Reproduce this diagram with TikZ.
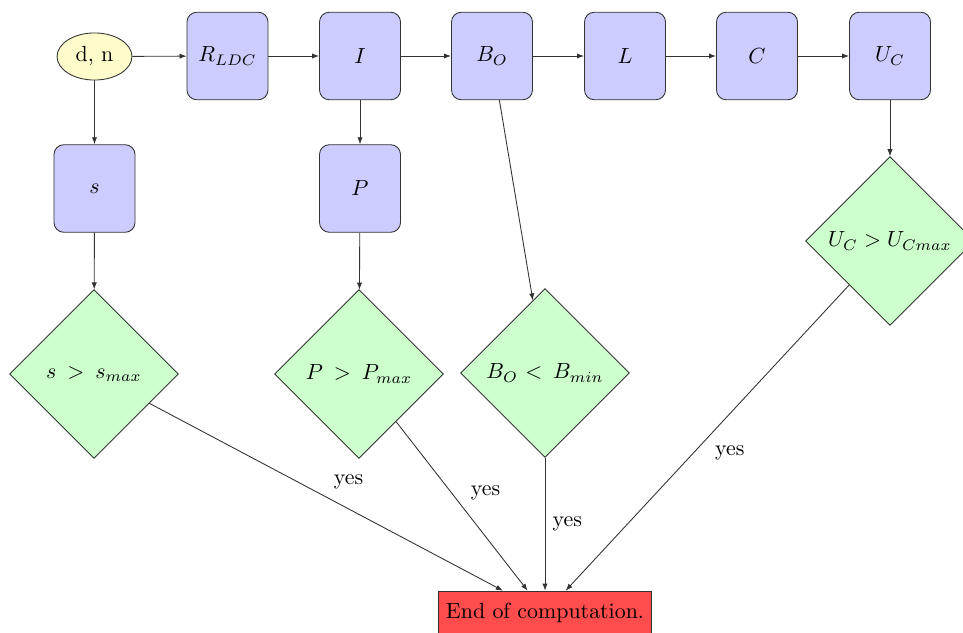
\documentclass[tikz,border=0pt]{standalone}
\usetikzlibrary{shapes.geometric,arrows.meta}
\tikzset{
  px/.style={x=0.4566pt,y=-0.4566pt},
  blockbox/.style={draw=black!80, fill=blue!20, rounded corners=4.5pt, minimum width=37pt, minimum height=40pt, inner sep=0pt},
  inbox/.style={draw=black!80, fill=yellow!20, ellipse, minimum width=34.2pt, minimum height=21.5pt, inner sep=0pt},
  testbox/.style={draw=black!80, fill=green!20, diamond, aspect=1, minimum width=77pt, minimum height=77pt, inner sep=1pt},
  endbox/.style={draw=black!80, fill=red!70, minimum width=97pt, minimum height=20pt},
  flow/.style={draw=black!80, -{Latex[length=3.2pt,width=2.4pt]}},
}
\begin{document}
\begin{tikzpicture}[px]
\useasboundingbox (0,0) rectangle (963,633);
\node[inbox] (in) at (94.5,56.5) {d, n};
\node[blockbox] (R) at (227.5,56) {$R_{LDC}$};
\node[blockbox] (I) at (360,56) {$I$};
\node[blockbox] (BO) at (492,56) {$B_O$};
\node[blockbox] (L) at (625,56) {$L$};
\node[blockbox] (C) at (757,56) {$C$};
\node[blockbox] (UC) at (890,56) {$U_C$};
\node[blockbox] (s) at (94.5,188.5) {$s$};
\node[blockbox] (P) at (360,188.5) {$P$};
\node[testbox] (ds) at (94,374) {$s$ \,$>$\, $s_{max}$};
\node[testbox] (dP) at (359,374) {$P$ \,$>$\, $P_{max}$};
\node[testbox] (dB) at (545,373) {$B_O$ $<$ \,$B_{min}$};
\node[testbox] (dU) at (890,241) {$U_C > U_{Cmax}$};
\node[endbox] (end) at (545,613) {End of computation.};

\draw[flow] (in) -- (R);
\draw[flow] (R) -- (I);
\draw[flow] (I) -- (BO);
\draw[flow] (BO) -- (L);
\draw[flow] (L) -- (C);
\draw[flow] (C) -- (UC);
\draw[flow] (in) -- (s);
\draw[flow] (s) -- (ds);
\draw[flow] (I) -- (P);
\draw[flow] (P) -- (dP);
\draw[flow] (BO) -- (dB);
\draw[flow] (UC) -- (dU);

\draw[flow] (ds) -- node[pos=0.5, above right] {yes} (end);
\draw[flow] (dP) -- node[pos=0.51, above right] {yes} (end);
\draw[flow] (dB) -- node[pos=0.5, right] {yes} (end);
\draw[flow] (dU) -- node[pos=0.5, below right] {yes} (end);
\end{tikzpicture}
\end{document}
